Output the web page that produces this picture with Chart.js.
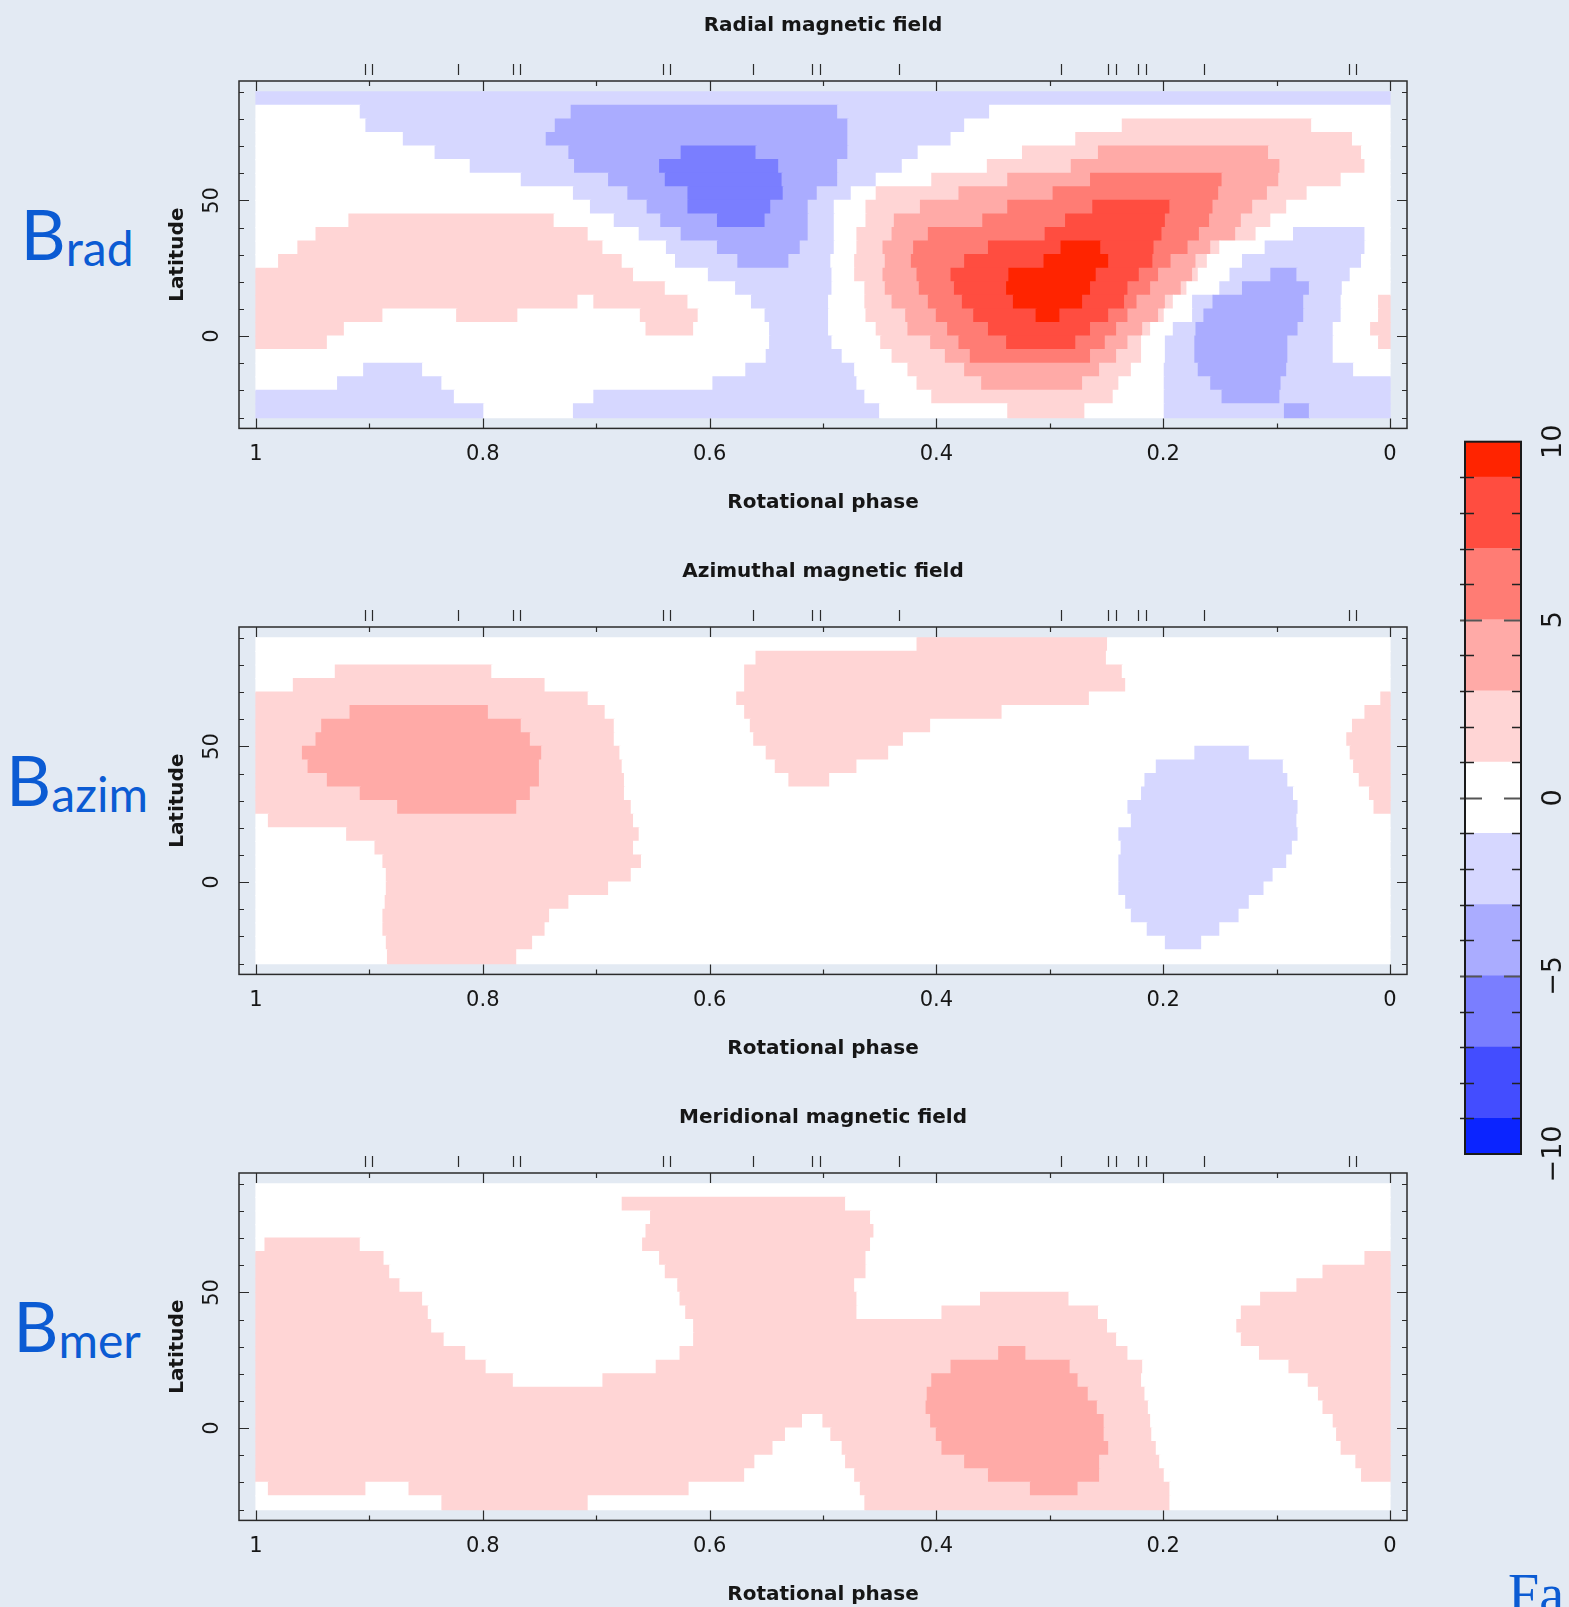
<!DOCTYPE html>
<html>
<head>
<meta charset="utf-8">
<script src="https://cdn.jsdelivr.net/npm/chart.js@4.4.1/dist/chart.umd.min.js"></script>
<style>
  html, body { margin: 0; padding: 0; }
  body { width: 1569px; height: 1607px; overflow: hidden; position: relative; background: #e3eaf3; }
  canvas { position: absolute; }
  .blabel { position: absolute; left: 0; width: 154px; text-align: center; color: #0b5bd3;
            font-family: Lato, "Open Sans", sans-serif; font-size: 70px; line-height: 70px; white-space: nowrap; }
  .blabel span { font-size: 48px; position: relative; top: 6px; }
  .fa { position: absolute; left: 1508px; top: 1566px; color: #0b5bd3;
        font-family: "Liberation Serif", serif; font-size: 56px; line-height: 56px; }
</style>
</head>
<body>
<div class="blabel" style="top:198px">B<span>rad</span></div>
<div class="blabel" style="top:744px">B<span>azim</span></div>
<div class="blabel" style="top:1290px">B<span>mer</span></div>
<div class="fa">Fa</div>

<canvas id="radial" width="1440" height="546" style="left:0;top:0"></canvas>
<canvas id="azimuthal" width="1440" height="546" style="left:0;top:546px"></canvas>
<canvas id="meridional" width="1440" height="546" style="left:0;top:1092px"></canvas>
<canvas id="cbar" width="129" height="800" style="left:1440px;top:400px"></canvas>

<script>
// latitude of each map row (row centres, 5 degree rows)
const latRows = [87.5, 82.5, 77.5, 72.5, 67.5, 62.5, 57.5, 52.5, 47.5, 42.5, 37.5, 32.5,
                 27.5, 22.5, 17.5, 12.5, 7.5, 2.5, -2.5, -7.5, -12.5, -17.5, -22.5, -27.5];

// field bands: code, lower and upper bound
const bandCodes = ['e', 'd', 'c', 'b', 'a', '0', '1', '2', '3', '4', '5'];
const bandLow   = [-10, -9, -7, -5, -3, -1, 1, 3, 5, 7, 9];
const bandHigh  = [-9, -7, -5, -3, -1, 1, 3, 5, 7, 9, 10];

// each row: "band@phase" where the band starts, read from phase 1 down to 0
const radialRows = [
  "a@1",
  "0@1 a@.908 b@.722 a@.487 0@.353",
  "0@1 a@.903 b@.736 a@.478 0@.375 1@.236 0@.069",
  "0@1 a@.870 b@.744 a@.478 0@.387 1@.277 0@.033",
  "0@1 a@.842 b@.724 c@.625 b@.559 a@.478 0@.416 1@.324 2@.257 1@.107 0@.025",
  "0@1 a@.811 b@.719 c@.644 b@.539 a@.487 0@.430 1@.355 2@.281 1@.097 0@.022",
  "0@1 a@.766 b@.689 c@.639 b@.536 a@.487 0@.453 1@.404 2@.337 3@.264 2@.148 1@.098 0@.043",
  "0@1 a@.72 b@.672 c@.619 b@.535 a@.505 0@.475 1@.453 2@.380 3@.297 2@.151 1@.108 0@.073",
  "0@1 a@.705 b@.655 c@.619 b@.546 a@.513 0@.490 1@.462 2@.414 3@.337 4@.262 3@.194 2@.156 1@.121 0@.091",
  "0@1 1@.918 0@.737 a@.684 b@.643 c@.593 b@.551 a@.513 0@.490 1@.462 2@.437 3@.359 4@.286 3@.198 2@.159 1@.131 0@.105",
  "0@1 1@.947 0@.707 a@.662 b@.625 a@.513 0@.490 1@.470 2@.439 3@.407 4@.304 3@.201 2@.168 1@.136 0@.118 a@.085 0@.022",
  "0@1 1@.963 0@.694 a@.638 b@.593 a@.52 0@.490 1@.470 2@.447 3@.420 4@.354 5@.29 4@.255 3@.208 2@.178 1@.158 0@.15 a@.11 0@.022",
  "0@1 1@.98 0@.677 a@.63 b@.575 a@.530 0@.493 1@.472 2@.445 3@.422 4@.375 5@.305 4@.248 3@.209 2@.193 1@.171 0@.161 a@.130 0@.025",
  "1@1 0@.667 a@.601 0@.492 1@.472 2@.447 3@.417 4@.387 5@.336 4@.259 3@.221 2@.204 1@.174 0@.169 a@.141 b@.105 a@.082 0@.035",
  "1@1 0@.639 a@.577 0@.492 1@.463 2@.445 3@.415 4@.384 5@.338 4@.264 3@.231 2@.211 1@.184 0@.179 a@.15 b@.130 a@.071 0@.042",
  "1@1 0@.716 1@.702 0@.619 a@.563 0@.495 1@.463 2@.439 3@.407 4@.377 5@.332 4@.271 3@.234 2@.223 1@.198 0@.191 a@.174 b@.156 a@.076 0@.043 1@.01",
  "1@1 0@.888 1@.823 0@.769 1@.661 0@.610 a@.551 0@.495 1@.462 2@.427 3@.400 4@.367 5@.312 4@.291 3@.248 2@.231 1@.204 0@.199 a@.174 b@.164 a@.076 0@.043 1@.01",
  "1@1 0@.922 1@.656 0@.614 a@.547 0@.495 1@.453 2@.425 3@.390 4@.354 3@.264 2@.241 1@.218 0@.211 a@.191 b@.171 a@.081 0@.050 1@.017",
  "1@1 0@.937 a@.547 0@.492 1@.449 2@.405 3@.380 4@.338 3@.277 2@.251 1@.231 0@.219 a@.198 b@.172 a@.090 0@.050 1@.01",
  "0@1 a@.550 0@.483 1@.439 2@.392 3@.370 2@.264 1@.241 0@.219 a@.198 b@.172 a@.090 0@.050",
  "0@1 a@.905 0@.853 a@.568 0@.472 1@.425 2@.375 1@.256 0@.228 a@.199 b@.169 a@.091 0@.032",
  "0@1 a@.928 0@.836 a@.597 0@.470 1@.417 2@.360 1@.271 0@.239 a@.199 b@.158 a@.096",
  "a@1 0@.825 a@.702 0@.463 1@.404 0@.244 a@.199 b@.148 a@.097",
  "a@1 0@.799 a@.720 0@.450 1@.337 0@.269 a@.199 b@.093 a@.071"
];

const azimuthalRows = [
  "0@1 1@.417 0@.249",
  "0@1 1@.559 0@.25",
  "0@1 1@.930 0@.792 1@.569 0@.236",
  "0@1 1@.967 0@.745 1@.569 0@.233",
  "1@1 0@.707 1@.576 0@.265 1@.008",
  "1@1 2@.917 1@.795 0@.692 1@.569 0@.342 1@.022",
  "1@1 2@.942 1@.766 0@.684 1@.564 0@.405 1@.033",
  "1@1 2@.947 1@.758 0@.684 1@.561 0@.429 1@.038",
  "1@1 2@.959 1@.748 0@.679 1@.550 0@.442 a@.172 0@.124 1@.035",
  "1@1 2@.954 1@.750 0@.677 1@.542 0@.470 a@.206 0@.094 1@.032",
  "1@1 2@.937 1@.750 0@.675 1@.53 0@.494 a@.216 0@.090 1@.027",
  "1@1 2@.908 1@.758 0@.675 a@.219 0@.085 1@.018",
  "1@1 2@.875 1@.770 0@.669 a@.231 0@.081 1@.014",
  "0@1 1@.989 0@.667 a@.228 0@.082",
  "0@1 1@.920 0@.662 a@.239 0@.081",
  "0@1 1@.895 0@.667 a@.237 0@.086",
  "0@1 1@.888 0@.660 a@.239 0@.091",
  "0@1 1@.885 0@.669 a@.239 0@.103",
  "0@1 1@.885 0@.689 a@.239 0@.111",
  "0@1 1@.886 0@.724 a@.233 0@.124",
  "0@1 1@.888 0@.741 a@.228 0@.133",
  "0@1 1@.888 0@.745 a@.214 0@.150",
  "0@1 1@.885 0@.756 a@.198 0@.166",
  "0@1 1@.884 0@.770"
];

const meridionalRows = [
  "0@1",
  "0@1 1@.677 0@.48",
  "0@1 1@.652 0@.458",
  "0@1 1@.656 0@.455",
  "0@1 1@.992 0@.908 1@.659 0@.458",
  "1@1 0@.887 1@.644 0@.462 1@.022",
  "1@1 0@.882 1@.639 0@.462 1@.059",
  "1@1 0@.873 1@.628 0@.472 1@.082",
  "1@1 0@.853 1@.626 0@.470 1@.361 0@.283 1@.114",
  "1@1 0@.848 1@.621 0@.470 1@.395 0@.257 1@.131",
  "1@1 0@.845 1@.614 0@.249 1@.135",
  "1@1 0@.834 1@.614 0@.241 1@.131",
  "1@1 0@.815 1@.626 2@.345 1@.321 0@.231 1@.115",
  "1@1 0@.797 1@.647 2@.387 1@.282 0@.218 1@.089",
  "1@1 0@.773 1@.694 2@.404 1@.275 0@.219 1@.072",
  "1@1 2@.408 1@.266 0@.216 1@.063",
  "1@1 2@.409 1@.258 0@.213 1@.059",
  "1@1 0@.518 1@.5 2@.405 1@.252 0@.211 1@.050",
  "1@1 0@.533 1@.493 2@.400 1@.252 0@.21 1@.047",
  "1@1 0@.544 1@.483 2@.395 1@.248 0@.206 1@.043",
  "1@1 0@.560 1@.480 2@.375 1@.256 0@.203 1@.030",
  "1@1 0@.569 1@.472 2@.354 1@.256 0@.199 1@.025",
  "0@1 1@.989 0@.903 1@.865 0@.618 1@.467 2@.317 1@.275 0@.194",
  "0@1 1@.836 0@.707 1@.463 0@.194"
];

// phases of the observations, marked above each map
const obsPhases = [0.904, 0.898, 0.822, 0.773, 0.767, 0.641, 0.635, 0.562, 0.510, 0.503,
                   0.433, 0.290, 0.249, 0.242, 0.222, 0.215, 0.164, 0.036, 0.030];

// frame tick positions
const phaseTicks = [0, 0.1, 0.2, 0.3, 0.4, 0.5, 0.6, 0.7, 0.8, 0.9, 1];
const latTicks = [-30, -20, -10, 0, 10, 20, 30, 40, 50, 60, 70, 80, 90];
const colorTicks = [-10, -9, -8, -7, -6, -5, -4, -3, -2, -1, 0, 1, 2, 3, 4, 5, 6, 7, 8, 9, 10];

const bandColor = {
  e: '#0b24ff', d: '#434dff', c: '#7a7eff', b: '#aaacff', a: '#d6d7ff', '0': '#ffffff',
  '1': '#ffd5d5', '2': '#ffaaa7', '3': '#ff7c74', '4': '#ff4d40', '5': '#ff2400'
};

const ink = '#161616';
const labelFont = { family: '"DejaVu Sans", sans-serif', size: 20, weight: 'bold' };
const tickFont = { family: '"DejaVu Sans", sans-serif', size: 21 };
const cbarFont = { family: '"DejaVu Sans", sans-serif', size: 27 };

const panelFrame = {
  id: 'panelFrame',
  afterDraw(chart) {
    const { ctx, chartArea: a, scales: { x, y } } = chart;
    ctx.save();
    ctx.strokeStyle = '#2b2b2b';
    ctx.lineWidth = 1.5;
    ctx.strokeRect(a.left, a.top, a.right - a.left, a.bottom - a.top);
    ctx.lineWidth = 1.2;
    ctx.beginPath();
    phaseTicks.forEach((p, i) => {
      const px = Math.round(x.getPixelForValue(p)) + 0.5;
      const len = i % 2 === 0 ? 10 : 5;
      ctx.moveTo(px, a.bottom); ctx.lineTo(px, a.bottom - len);
      ctx.moveTo(px, a.top); ctx.lineTo(px, a.top + len);
    });
    latTicks.forEach(l => {
      const py = Math.round(y.getPixelForValue(l)) + 0.5;
      const len = l % 50 === 0 ? 10 : 5;
      ctx.moveTo(a.left, py); ctx.lineTo(a.left + len, py);
      ctx.moveTo(a.right, py); ctx.lineTo(a.right - len, py);
    });
    obsPhases.forEach(p => {
      const px = Math.round(x.getPixelForValue(p)) + 0.5;
      ctx.moveTo(px, a.top - 17); ctx.lineTo(px, a.top - 6);
    });
    ctx.stroke();
    ctx.restore();
  }
};

function rowSegments(rows) {
  const segs = [];
  rows.forEach((row, k) => {
    const parts = row.split(' ').map(t => t.split('@'));
    parts.forEach(([band, start], i) => {
      const end = i + 1 < parts.length ? parseFloat(parts[i + 1][1]) : 0;
      segs.push({ y: latRows[k], x: [parseFloat(start), end], band });
    });
  });
  return segs;
}

function makePanel(id, title, rows) {
  return new Chart(document.getElementById(id), {
    type: 'bar',
    data: {
      datasets: [{
        data: rowSegments(rows),
        backgroundColor: c => bandColor[c.raw.band],
        borderWidth: 0,
        inflateAmount: 0.6,
        barPercentage: 1,
        categoryPercentage: 1
      }]
    },
    options: {
      indexAxis: 'y',
      animation: false,
      responsive: false,
      events: [],
      layout: { padding: { left: 0, top: 0, right: 33, bottom: 0 } },
      plugins: { legend: { display: false }, tooltip: { enabled: false } },
      scales: {
        x: {
          type: 'linear', position: 'bottom', reverse: true, min: -0.015, max: 1.015, offset: false,
          grid: { display: false, drawTicks: false }, border: { display: false },
          ticks: { stepSize: 0.2, includeBounds: false, padding: 14, color: ink, font: tickFont,
                   maxRotation: 0, callback: v => String(Math.round(v * 10) / 10) },
          title: { display: true, text: 'Rotational phase', color: ink, font: labelFont,
                   padding: { top: 0, bottom: 31 } },
          afterFit: s => { s.height = 117.6; }
        },
        xTop: {
          type: 'linear', position: 'top', reverse: true, min: -0.015, max: 1.015, offset: false,
          grid: { display: false, drawTicks: false }, border: { display: false },
          ticks: { display: false },
          title: { display: true, text: title, color: ink, font: labelFont,
                   padding: { top: 13.6, bottom: 0 } },
          afterFit: s => { s.height = 81; }
        },
        y: {
          type: 'linear', position: 'left', min: -34, max: 94, offset: false,
          grid: { display: false, drawTicks: false, offset: false }, border: { display: false },
          ticks: { stepSize: 50, includeBounds: false, minRotation: 90, maxRotation: 90,
                   crossAlign: 'center', padding: 13, color: ink, font: tickFont },
          title: { display: true, text: 'Latitude', color: ink, font: labelFont,
                   padding: { top: 166, bottom: 0 } },
          afterFit: s => { s.width = 239; }
        }
      }
    },
    plugins: [panelFrame]
  });
}

makePanel('radial', 'Radial magnetic field', radialRows);
makePanel('azimuthal', 'Azimuthal magnetic field', azimuthalRows);
makePanel('meridional', 'Meridional magnetic field', meridionalRows);

// colour scale
const cbarFrame = {
  id: 'cbarFrame',
  afterDraw(chart) {
    const { ctx, chartArea: a, scales: { y } } = chart;
    ctx.save();
    ctx.lineWidth = 1.3;
    ctx.beginPath();
    colorTicks.forEach(v => {
      if (Math.abs(v) === 10 || v % 5 === 0) return;
      const py = Math.round(y.getPixelForValue(v)) + 0.5;
      ctx.moveTo(a.left - 5, py); ctx.lineTo(a.left + 9, py);
      ctx.moveTo(a.right - 9, py); ctx.lineTo(a.right, py);
    });
    ctx.strokeStyle = '#222';
    ctx.stroke();
    ctx.beginPath();
    colorTicks.filter(v => v % 5 === 0 && Math.abs(v) < 10).forEach(v => {
      const py = Math.round(y.getPixelForValue(v)) + 0.5;
      ctx.moveTo(a.left - 5, py); ctx.lineTo(a.left + 17, py);
      ctx.moveTo(a.right - 17, py); ctx.lineTo(a.right, py);
    });
    ctx.lineWidth = 2;
    ctx.strokeStyle = '#555';
    ctx.stroke();
    ctx.lineWidth = 2;
    ctx.strokeStyle = '#1a1a1a';
    ctx.strokeRect(a.left, a.top, a.right - a.left, a.bottom - a.top);
    ctx.restore();
  }
};

new Chart(document.getElementById('cbar'), {
  type: 'bar',
  data: {
    labels: ['B'],
    datasets: bandCodes.map((code, i) => ({
      data: [[bandLow[i], bandHigh[i]]],
      backgroundColor: bandColor[code],
      borderWidth: 0,
      grouped: false,
      barPercentage: 1,
      categoryPercentage: 1,
      inflateAmount: 0.5
    }))
  },
  options: {
    animation: false,
    responsive: false,
    events: [],
    layout: { padding: { left: 25, top: 41.7, right: 0, bottom: 46 } },
    plugins: { legend: { display: false }, tooltip: { enabled: false } },
    scales: {
      x: { display: false },
      y: {
        position: 'right', min: -10, max: 10,
        grid: { display: false, drawTicks: false }, border: { display: false },
        ticks: { stepSize: 5, minRotation: 90, maxRotation: 90, crossAlign: 'center', padding: 4,
                 color: ink, font: cbarFont,
                 callback: v => (v < 0 ? '\u2212' + Math.abs(v) : String(v)) },
        afterFit: s => { s.width = 48; }
      }
    }
  },
  plugins: [cbarFrame]
});
</script>
</body>
</html>
